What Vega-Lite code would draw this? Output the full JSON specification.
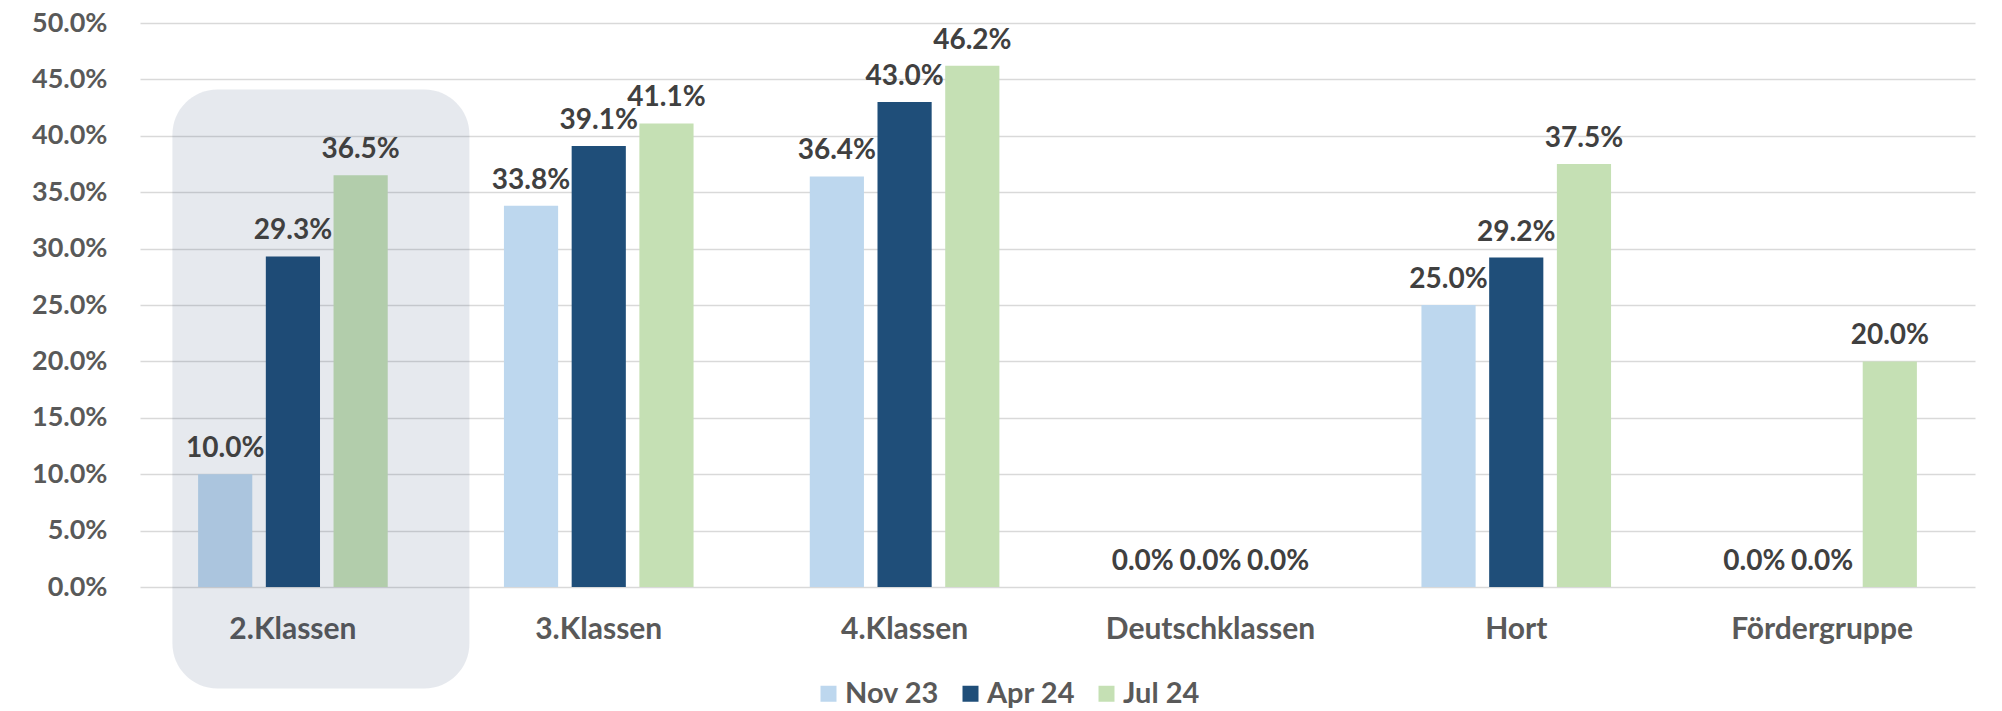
{
  "$schema": "https://vega.github.io/schema/vega-lite/v6.json",
  "width": 1835,
  "height": 564,
  "autosize": {"type": "none"},
  "padding": {"left": 140, "top": 23, "right": 27, "bottom": 124},
  "background": "white",
  "config": {"view": {"stroke": null}, "font": "Lato"},
  "datasets": {
    "main": [
      {"cat": "2.Klassen", "series": "Nov 23", "value": 0.100},
      {"cat": "2.Klassen", "series": "Apr 24", "value": 0.293},
      {"cat": "2.Klassen", "series": "Jul 24", "value": 0.365},
      {"cat": "3.Klassen", "series": "Nov 23", "value": 0.338},
      {"cat": "3.Klassen", "series": "Apr 24", "value": 0.391},
      {"cat": "3.Klassen", "series": "Jul 24", "value": 0.411},
      {"cat": "4.Klassen", "series": "Nov 23", "value": 0.364},
      {"cat": "4.Klassen", "series": "Apr 24", "value": 0.430},
      {"cat": "4.Klassen", "series": "Jul 24", "value": 0.462},
      {"cat": "Deutschklassen", "series": "Nov 23", "value": 0.0},
      {"cat": "Deutschklassen", "series": "Apr 24", "value": 0.0},
      {"cat": "Deutschklassen", "series": "Jul 24", "value": 0.0},
      {"cat": "Hort", "series": "Nov 23", "value": 0.250},
      {"cat": "Hort", "series": "Apr 24", "value": 0.292},
      {"cat": "Hort", "series": "Jul 24", "value": 0.375},
      {"cat": "Fördergruppe", "series": "Nov 23", "value": 0.0},
      {"cat": "Fördergruppe", "series": "Apr 24", "value": 0.0},
      {"cat": "Fördergruppe", "series": "Jul 24", "value": 0.200}
    ],
    "highlight": [
      {"cat": "2.Klassen", "top": 0.441, "bottom": -0.09}
    ]
  },
  "layer": [
    {
      "data": {"name": "main"},
      "mark": {"type": "bar"},
      "encoding": {
        "x": {
          "field": "cat", "type": "nominal",
          "sort": ["2.Klassen", "3.Klassen", "4.Klassen", "Deutschklassen", "Hort", "Fördergruppe"],
          "scale": {"paddingInner": 0.38, "paddingOuter": 0.19},
          "axis": {"title": null, "labelAngle": 0, "domain": false, "ticks": false, "labelPadding": 27, "labelLimit": 0,
                   "labelFontSize": 30, "labelFontWeight": "bold", "labelColor": "#595959", "grid": false}
        },
        "xOffset": {
          "field": "series", "type": "nominal",
          "sort": ["Nov 23", "Apr 24", "Jul 24"],
          "scale": {"paddingInner": 0.2, "paddingOuter": 0}
        },
        "y": {
          "field": "value", "type": "quantitative",
          "scale": {"domain": [0, 0.5], "nice": false, "zero": true},
          "axis": {"title": null, "format": ".1%", "values": [0, 0.05, 0.1, 0.15, 0.2, 0.25, 0.3, 0.35, 0.4, 0.45, 0.5],
                   "domain": false, "ticks": false, "labelPadding": 33, "gridColor": "#d9d9d9", "gridWidth": 1.5,
                   "labelFontSize": 27, "labelFontWeight": "bold", "labelColor": "#595959"}
        },
        "color": {
          "field": "series", "type": "nominal",
          "scale": {"domain": ["Nov 23", "Apr 24", "Jul 24"], "range": ["#bdd7ee", "#1f4e79", "#c5e0b4"]},
          "legend": {"orient": "none", "legendX": 674, "legendY": 656, "direction": "horizontal", "title": null,
                     "symbolType": "square", "symbolSize": 256, "symbolStrokeWidth": 0,
                     "labelFontSize": 29, "labelFontWeight": "bold", "labelColor": "#595959",
                     "columnPadding": 16, "labelOffset": 2}
        }
      }
    },
    {
      "data": {"name": "highlight"},
      "mark": {"type": "bar", "width": 297, "xOffset": 28, "cornerRadius": 45, "color": "#1f3864", "opacity": 0.11},
      "encoding": {
        "x": {"field": "cat", "type": "nominal", "sort": ["2.Klassen", "3.Klassen", "4.Klassen", "Deutschklassen", "Hort", "Fördergruppe"]},
        "y": {"field": "top", "type": "quantitative"},
        "y2": {"field": "bottom"}
      }
    },
    {
      "data": {"name": "main"},
      "mark": {"type": "text", "baseline": "alphabetic", "dy": -17, "fontSize": 28, "fontWeight": "bold", "color": "#404040"},
      "encoding": {
        "x": {"field": "cat", "type": "nominal", "sort": ["2.Klassen", "3.Klassen", "4.Klassen", "Deutschklassen", "Hort", "Fördergruppe"]},
        "xOffset": {"field": "series", "type": "nominal", "sort": ["Nov 23", "Apr 24", "Jul 24"]},
        "y": {"field": "value", "type": "quantitative"},
        "text": {"field": "value", "type": "quantitative", "format": ".1%"}
      }
    }
  ]
}
